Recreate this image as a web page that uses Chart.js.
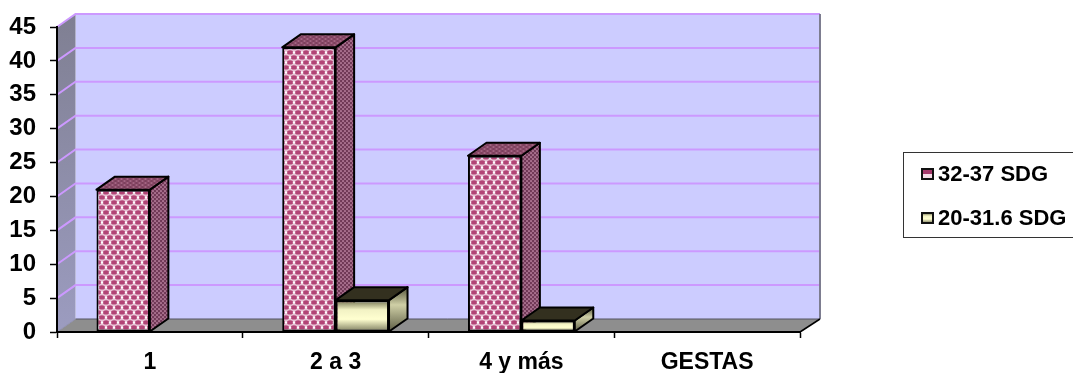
<!DOCTYPE html>
<html>
<head>
<meta charset="utf-8">
<style>
  html, body { margin: 0; padding: 0; background: #fff; }
  #wrap { width: 1073px; height: 373px; position: relative; }
</style>
<script src="https://cdn.jsdelivr.net/npm/chart.js@4"></script>
</head>
<body>
<div id="wrap"><canvas id="chart" width="1073" height="373"></canvas></div>
<script>
// Data
const categories = ['1', '2 a 3', '4 y más', 'GESTAS'];
const series32a37 = [21, 42, 26, null];
const series20a31 = [null, 4.7, 1.7, null];
const seriesNames = ['32-37 SDG', '20-31.6 SDG'];
const yMax = 45;
const yStep = 5;

const FONT = '"Liberation Sans", Arial, sans-serif';
const DEPTH_X = 18.5;
const DEPTH_Y = 13;

// Woven dot fill used on the front of the first series
function makeTile(w, h, paint) {
  const c = document.createElement('canvas');
  c.width = w; c.height = h;
  paint(c.getContext('2d'), w, h);
  return c;
}
function ovals(g, color, list) {
  g.fillStyle = color;
  list.forEach(([x, y, rx, ry]) => {
    g.beginPath(); g.ellipse(x, y, rx, ry, 0, 0, Math.PI * 2); g.fill();
  });
}
const weaveTile = makeTile(8, 10, (g, w, h) => {
  g.fillStyle = '#e9c3d5'; g.fillRect(0, 0, w, h);
  ovals(g, '#b24476', [[2, 2.4, 3.1, 2.1], [6, 7.4, 3.1, 2.1], [-2, 7.4, 3.1, 2.1], [10, 2.4, 3.1, 2.1]]);
  ovals(g, '#ffffff', [[6, 2.4, 1.3, 1], [2, 7.4, 1.3, 1]]);
});
const sideTile = makeTile(4, 4, (g, w, h) => {
  g.fillStyle = '#96597a'; g.fillRect(0, 0, w, h);
  ovals(g, '#6a3350', [[1, 1, 1.2, 0.9], [3, 3, 1.2, 0.9]]);
  ovals(g, '#d0a6ba', [[3, 1, 0.7, 0.5], [1, 3, 0.7, 0.5]]);
});
const topTile = makeTile(6, 4, (g, w, h) => {
  g.fillStyle = '#92506f'; g.fillRect(0, 0, w, h);
  ovals(g, '#733a56', [[1.5, 1, 1.6, 0.8], [4.5, 3, 1.6, 0.8]]);
  ovals(g, '#bd8ca4', [[4.5, 1, 0.7, 0.4], [1.5, 3, 0.7, 0.4]]);
});

const ctx = document.getElementById('chart').getContext('2d');
const weaveFill = ctx.createPattern(weaveTile, 'repeat');
const sideFill = ctx.createPattern(sideTile, 'repeat');
const topFill = ctx.createPattern(topTile, 'repeat');

function creamFront(g, top, bottom) {
  const f = g.createLinearGradient(0, top, 0, bottom);
  f.addColorStop(0, '#6e6e4c');
  f.addColorStop(0.3, '#f2f2c4');
  f.addColorStop(0.6, '#ffffd0');
  f.addColorStop(1, '#77775a');
  return f;
}

// Back wall, side wall, floor and their grid lines
const roomPlugin = {
  id: 'room',
  beforeDraw(chart) {
    const g = chart.ctx, { left, right } = chart.chartArea;
    const y = chart.scales.y;
    const y0 = y.getPixelForValue(0), yTop = y.getPixelForValue(yMax);
    const bl = left + DEPTH_X, br = right + DEPTH_X + 1.5;
    const by = y0 - DEPTH_Y, ty = yTop - DEPTH_Y;

    g.save();
    g.fillStyle = '#ccccff';
    g.fillRect(bl, ty, br - bl, by - ty);

    const wall = g.createLinearGradient(0, ty, 0, y0);
    wall.addColorStop(0, '#7f7f92');
    wall.addColorStop(1, '#9c9cc0');
    g.fillStyle = wall;
    g.beginPath();
    g.moveTo(left, yTop); g.lineTo(bl, ty); g.lineTo(bl, by); g.lineTo(left, y0);
    g.closePath(); g.fill();

    g.fillStyle = '#8e8e8e';
    g.beginPath();
    g.moveTo(left, y0); g.lineTo(bl, by); g.lineTo(br, by); g.lineTo(right, y0);
    g.closePath(); g.fill();

    // Horizontal grid on the back wall, stepping down the side wall
    g.strokeStyle = '#cc99ff';
    g.lineWidth = 2;
    for (let v = yStep; v <= yMax; v += yStep) {
      const p = y.getPixelForValue(v);
      g.beginPath();
      g.moveTo(left, p); g.lineTo(bl, p - DEPTH_Y); g.lineTo(br, p - DEPTH_Y);
      g.stroke();
    }

    g.lineWidth = 1;
    g.strokeStyle = '#555560';
    g.beginPath();
    g.moveTo(bl, by); g.lineTo(br, by);
    g.stroke();
    g.strokeStyle = '#7d7d90';
    g.lineWidth = 2;
    g.beginPath();
    g.moveTo(br, ty); g.lineTo(br, by);
    g.stroke();
    g.strokeStyle = '#000';
    g.lineWidth = 1.5;
    g.beginPath();
    g.moveTo(br, by); g.lineTo(right, y0);
    g.stroke();
    g.strokeStyle = '#8f8fb0';
    g.lineWidth = 1;
    g.beginPath();
    g.moveTo(left, y0); g.lineTo(bl, by);
    g.stroke();
    g.restore();
  }
};

// Depth faces of each bar, taken from the geometry of its element
const depthPlugin = {
  id: 'depth',
  beforeDatasetsDraw(chart) {
    const g = chart.ctx;
    chart.data.datasets.forEach((ds, di) => {
      chart.getDatasetMeta(di).data.forEach((bar, i) => {
        if (ds.data[i] == null) return;
        const l = bar.x - bar.width / 2, r = bar.x + bar.width / 2;
        const t = bar.y, b = bar.base;
        g.save();
        g.strokeStyle = '#000';
        g.lineWidth = 2;
        g.lineJoin = 'round';

        let side = sideFill;
        if (di === 1) {
          side = g.createLinearGradient(0, t - DEPTH_Y, 0, b);
          side.addColorStop(0, '#55553c');
          side.addColorStop(0.4, '#cfcfa6');
          side.addColorStop(1, '#5c5c44');
        }
        g.fillStyle = side;
        g.beginPath();
        g.moveTo(r, t); g.lineTo(r + DEPTH_X, t - DEPTH_Y);
        g.lineTo(r + DEPTH_X, b - DEPTH_Y); g.lineTo(r, b);
        g.closePath(); g.fill(); g.stroke();

        g.fillStyle = di === 1 ? '#33301f' : topFill;
        g.beginPath();
        g.moveTo(l, t); g.lineTo(l + DEPTH_X, t - DEPTH_Y);
        g.lineTo(r + DEPTH_X, t - DEPTH_Y); g.lineTo(r, t);
        g.closePath(); g.fill(); g.stroke();
        g.restore();
      });
    });
  }
};

// Boxed legend to the right of the plot
const boxLegendPlugin = {
  id: 'boxLegend',
  afterDraw(chart) {
    const g = chart.ctx;
    const rows = [174, 218];
    g.save();
    g.strokeStyle = '#333';
    g.lineWidth = 1;
    g.strokeRect(903.5, 152.5, 175, 85);
    g.font = 'bold 22px ' + FONT;
    g.textBaseline = 'middle';
    g.textAlign = 'left';
    chart.data.datasets.forEach((ds, i) => {
      const y = rows[i];
      const x = 922;
      if (i === 0) {
        g.fillStyle = '#f4dbe6';
        g.fillRect(x, y - 5, 11, 10);
        g.fillStyle = '#a5386b';
        g.fillRect(x, y - 5, 11, 5);
      } else {
        g.fillStyle = creamFront(g, y - 5, y + 5);
        g.fillRect(x, y - 5, 11, 10);
      }
      g.strokeStyle = '#111';
      g.lineWidth = 2;
      g.strokeRect(x, y - 5, 11, 10);
      g.fillStyle = '#000';
      g.fillText(ds.label, 938, y + 1);
    });
    g.restore();
  }
};

new Chart(ctx, {
  type: 'bar',
  data: {
    labels: categories,
    datasets: [
      {
        label: seriesNames[0],
        data: series32a37,
        backgroundColor: weaveFill,
        borderColor: '#000',
        borderWidth: 2,
        borderSkipped: false
      },
      {
        label: seriesNames[1],
        data: series20a31,
        backgroundColor(c) {
          const y = c.chart.scales.y, v = c.raw;
          if (!y || v == null) return '#ffffd0';
          return creamFront(c.chart.ctx, y.getPixelForValue(v), y.getPixelForValue(0));
        },
        borderColor: '#000',
        borderWidth: 2,
        borderSkipped: false
      }
    ]
  },
  options: {
    responsive: false,
    animation: false,
    events: [],
    categoryPercentage: 0.575,
    barPercentage: 1,
    layout: { padding: { left: 0, right: 273, top: 27, bottom: 0 } },
    plugins: { legend: { display: false }, title: { display: false }, tooltip: { enabled: false } },
    scales: {
      x: {
        afterFit(s) { s.height = 41; },
        grid: { offset: true, drawOnChartArea: false, tickLength: 6, tickColor: '#000', tickWidth: 1.5 },
        border: { color: '#000', width: 2 },
        ticks: { color: '#000', font: { family: FONT, weight: 'bold', size: 23 }, padding: 11, maxRotation: 0 }
      },
      y: {
        min: 0,
        max: yMax,
        afterFit(s) { s.width = 57; },
        grid: { drawOnChartArea: false, tickLength: 7, tickColor: '#000', tickWidth: 1.5 },
        border: { color: '#000', width: 2 },
        ticks: { stepSize: yStep, color: '#000', font: { family: FONT, weight: 'bold', size: 24, lineHeight: 1 }, padding: 14 }
      }
    }
  },
  plugins: [roomPlugin, depthPlugin, boxLegendPlugin]
});
</script>
</body>
</html>
